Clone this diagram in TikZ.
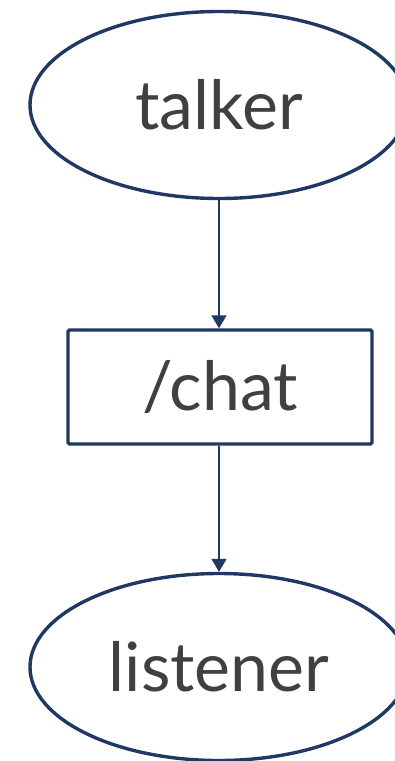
\documentclass[tikz,border=0pt]{standalone}
\usepackage{fontspec}
\setmainfont{Lato}
\usetikzlibrary{shapes.geometric,arrows.meta}
\definecolor{navy}{HTML}{1F3864}
\definecolor{txt}{HTML}{404040}
\tikzset{
  base/.style={draw=navy, line width=3.4pt, text=txt, font=\fontsize{68}{72}\selectfont, inner sep=0pt},
  oval/.style={base, ellipse, minimum width=378pt, minimum height=187pt},
  topic/.style={base, rectangle, rounded corners=1.5pt, minimum width=304pt, minimum height=114pt},
  link/.style={draw=navy, line width=1.5pt, -{Triangle[width=15pt,length=13pt]}}
}
\begin{document}
\begin{tikzpicture}[x=1pt,y=-1pt]
\useasboundingbox (0,0) rectangle (395,761);
\clip (0,0) rectangle (395,761);
\node[oval] (talker) at (219,105) {talker};
\node[topic] (chat) at (220,387) {/chat};
\node[oval] (listener) at (219,667) {listener};
\draw[link] (talker.south) -- (chat.north -| talker.south);
\draw[link] (chat.south -| listener.north) -- (listener.north);
\end{tikzpicture}
\end{document}
